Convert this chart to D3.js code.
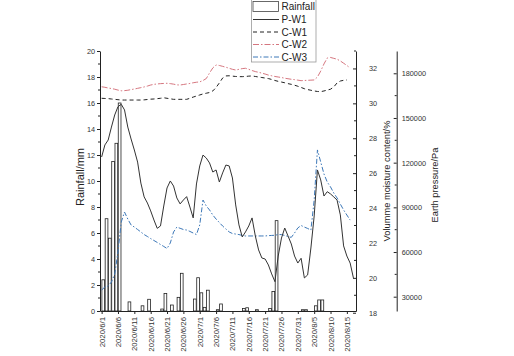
<!DOCTYPE html>
<html><head><meta charset="utf-8">
<script src="https://cdn.jsdelivr.net/npm/d3@7"></script>
<style>
body{margin:0;background:#fff;}
svg{display:block;font-family:"Liberation Sans",Arial,sans-serif;}
</style></head>
<body><svg id="c" width="514" height="356"></svg>
<script>
// ---- data ----
const startDate = "2020/6/1";
const xTickLabels = ["2020/6/1","2020/6/6","2020/6/11","2020/6/16","2020/6/21","2020/6/26","2020/7/1","2020/7/6","2020/7/11","2020/7/16","2020/7/21","2020/7/26","2020/7/31","2020/8/5","2020/8/10","2020/8/15"];
const rainTicks = [0,2,4,6,8,10,12,14,16,18,20];
const moistTicks = [18,20,22,24,26,28,30,32];
const pressTicks = [30000,60000,90000,120000,150000,180000];
// rainfall (mm), by day index from 2020/6/1
const rainDay   = [0,1,2,3,4,5,8,12,14,18,19,21,23,24,28,29,30,31,32,35,36,43,44,47,51,52,53,61,62,65,66,67];
const rainValue = [2.4,7.1,5.6,11.5,12.9,16.0,0.7,0.4,0.9,0.15,1.35,0.46,1.05,2.9,0.92,2.56,1.4,0.28,1.6,0.1,0.54,0.2,0.25,0.1,0.2,1.5,6.95,0.1,0.1,0.4,0.85,0.85];
// earth pressure P-W1 (Pa), daily from 2020/6/1
const pW1 = [123800,131900,135200,143900,152000,157600,159200,155400,143900,135900,128500,120400,106300,97000,92900,87600,81500,75900,77500,90900,103000,107700,104300,96300,92300,94900,97200,90200,82900,105700,117800,125100,123100,119800,113700,115100,107000,113100,118400,117800,109700,91600,78200,70100,73500,77500,82900,70800,61400,56000,55300,51300,45300,40100,57300,69400,76100,70800,65400,57300,52600,55800,42600,44600,62700,84200,115100,108400,97600,100500,99000,97000,94900,84900,64100,57300,52600,42600];
// volume moisture content (%), daily from 2020/6/1
const cW1 = [30.29,30.28,30.27,30.25,30.23,30.21,30.19,30.19,30.19,30.19,30.19,30.19,30.19,30.20,30.22,30.24,30.25,30.27,30.29,30.32,30.29,30.26,30.23,30.23,30.23,30.23,30.23,30.29,30.36,30.42,30.48,30.54,30.58,30.62,30.71,30.91,31.17,31.45,31.57,31.58,31.56,31.54,31.53,31.53,31.54,31.56,31.57,31.54,31.51,31.48,31.45,31.42,31.37,31.31,31.26,31.22,31.18,31.13,31.09,31.04,30.98,30.91,30.84,30.79,30.75,30.71,30.68,30.67,30.71,30.76,30.81,30.94,31.17,31.28,31.32,31.34];
const cW2 = [30.95,30.92,30.88,30.85,30.81,30.76,30.72,30.73,30.75,30.79,30.82,30.86,30.90,30.94,30.99,31.05,31.09,31.11,31.13,31.14,31.15,31.13,31.10,31.06,31.05,31.08,31.11,31.14,31.18,31.21,31.23,31.31,31.42,31.74,32.03,32.20,32.17,32.12,32.07,32.01,31.95,31.91,31.95,31.99,32.01,31.95,31.88,31.82,31.78,31.73,31.68,31.62,31.58,31.54,31.51,31.48,31.44,31.41,31.38,31.36,31.33,31.30,31.31,31.32,31.33,31.34,31.51,31.85,32.26,32.60,32.63,32.58,32.53,32.43,32.30,32.17,32.03];
const cW3 = [19.30,19.48,19.53,19.76,20.22,21.48,23.20,23.77,23.37,23.03,22.91,22.77,22.63,22.48,22.37,22.25,22.14,22.03,21.91,21.80,21.68,22.00,22.63,22.91,22.84,22.77,22.74,22.66,22.57,22.48,23.03,24.46,24.12,23.89,23.60,23.37,23.17,22.97,22.80,22.63,22.54,22.51,22.48,22.43,22.40,22.40,22.40,22.40,22.40,22.40,22.40,22.42,22.43,22.44,22.48,22.48,22.43,22.37,22.32,22.57,22.86,23.00,22.91,22.83,22.74,24.46,27.33,26.64,25.95,25.49,25.21,24.86,24.58,24.23,23.89,23.60,23.31];
const legendNames = ["Rainfall","P-W1","C-W1","C-W2","C-W3"];

// ---- chart ----
const parse = d3.timeParse("%Y/%m/%d");
const t0 = parse(startDate);
const dayOf = i => d3.timeHour.offset(t0, Math.round(i*24));
const svg = d3.select("#c");
svg.append("rect").attr("width",514).attr("height",356).attr("fill","#fff");

const L=100, R=356, T=51, B=311;
const x = d3.scaleTime().domain([dayOf(-0.5), dayOf(77.8)]).range([L,R]);
const yRain = d3.scaleLinear().domain([0,20]).range([B,T]);
const yMoist = d3.scaleLinear().domain([18.1,33]).range([B,T]);
const yPress = d3.scaleLinear().domain([20400,194970]).range([B,T]);

// bars
svg.append("g").selectAll("rect").data(rainDay).join("rect")
  .attr("x",(d)=>x(dayOf(d+0.1)))
  .attr("width",(d)=>x(dayOf(d+0.9))-x(dayOf(d+0.1)))
  .attr("y",(d,i)=>yRain(rainValue[i]))
  .attr("height",(d,i)=>B-yRain(rainValue[i]))
  .attr("fill","#fff").attr("stroke","#222").attr("stroke-width",0.8);

const styles = {
  pW1:{stroke:"#333",dash:null,w:1},
  cW1:{stroke:"#222",dash:"4,3",w:1},
  cW2:{stroke:"#d06670",dash:"6,2,1.5,2",w:0.9},
  cW3:{stroke:"#3d78b8",dash:"5,2,1.5,2",w:1}
};
function drawLine(arr, yS, st){
  svg.append("path").datum(arr)
    .attr("d", d3.line().x((d,i)=>x(dayOf(i))).y(d=>yS(d)))
    .attr("fill","none").attr("stroke",st.stroke).attr("stroke-width",st.w)
    .attr("stroke-dasharray",st.dash);
}
drawLine(cW1,yMoist,styles.cW1);
drawLine(cW2,yMoist,styles.cW2);
drawLine(cW3,yMoist,styles.cW3);
drawLine(pW1,yPress,styles.pW1);

// axes
const fs = 7.3;
function styleAxis(g){
  g.selectAll("path.domain").attr("stroke","#222");
  g.selectAll("line").attr("stroke","#222");
  g.selectAll("text").attr("fill","#333").attr("font-size",fs).attr("font-family","Liberation Sans, Arial, sans-serif");
}
// left
const gl = svg.append("g").attr("transform",`translate(${L},0)`)
  .call(d3.axisLeft(yRain).tickValues(rainTicks).tickSize(3).tickPadding(2).tickSizeOuter(0));
styleAxis(gl);
gl.selectAll(".minor").data(d3.range(1,20,2)).join("line").attr("class","minor")
  .attr("x1",-2).attr("x2",0).attr("y1",d=>yRain(d)).attr("y2",d=>yRain(d)).attr("stroke","#222");
// bottom
const tickDates = xTickLabels.map(parse);
const gb = svg.append("g").attr("transform",`translate(0,${B})`)
  .call(d3.axisBottom(x).tickValues(tickDates).tickFormat((d,i)=>xTickLabels[i]).tickSize(3).tickSizeOuter(0));
styleAxis(gb);
gb.selectAll(".tick text").attr("font-size",7.8).attr("transform","rotate(-90)").attr("text-anchor","end")
  .attr("x",-6).attr("y",0).attr("dy","0.32em");
// moisture
const gm = svg.append("g").attr("transform",`translate(${R},0)`)
  .call(d3.axisRight(yMoist).tickValues(moistTicks).tickSizeInner(-3).tickSizeOuter(0).tickPadding(13));
styleAxis(gm);
gm.selectAll(".minor").data(d3.range(19,34,2)).join("line").attr("class","minor")
  .attr("x1",-2).attr("x2",0).attr("y1",d=>yMoist(d)).attr("y2",d=>yMoist(d)).attr("stroke","#222");
// pressure
const PX = 396.7;
const gp = svg.append("g").attr("transform",`translate(${PX},0)`)
  .call(d3.axisRight(yPress).tickValues(pressTicks).tickSizeInner(-3).tickSizeOuter(0).tickPadding(5).tickFormat(d3.format("d")));
styleAxis(gp);
gp.selectAll(".minor").data(d3.range(45000,195000,30000)).join("line").attr("class","minor")
  .attr("x1",-2).attr("x2",0).attr("y1",d=>yPress(d)).attr("y2",d=>yPress(d)).attr("stroke","#222");

// axis titles
function vtitle(txt,cx,cy,size){
  svg.append("text").attr("transform",`translate(${cx},${cy}) rotate(-90)`)
    .attr("text-anchor","middle").attr("dy","0.35em").attr("font-size",size).attr("fill","#222").text(txt);
}
vtitle("Rainfall/mm",80,177,11);
vtitle("Volumme moisture content/%",387,181,9.3);
vtitle("Earth pressure/Pa",435,185,9.3);

// legend
const lg = svg.append("g");
lg.append("rect").attr("x",251.5).attr("y",-1).attr("width",64.5).attr("height",63)
  .attr("fill","#fff").attr("stroke","#999").attr("stroke-width",0.8);
const ly = [6,19.5,32,44.5,57];
lg.append("rect").attr("x",253).attr("y",1.5).attr("width",25.5).attr("height",10)
  .attr("fill","#fff").attr("stroke","#444").attr("stroke-width",0.8);
const lst = [null,styles.pW1,styles.cW1,styles.cW2,styles.cW3];
lst.forEach((st,i)=>{
  if(st) lg.append("line").attr("x1",253).attr("x2",279).attr("y1",ly[i]).attr("y2",ly[i])
    .attr("stroke",st.stroke).attr("stroke-width",st.w).attr("stroke-dasharray",st.dash);
  lg.append("text").attr("x",281.5).attr("y",ly[i]).attr("dy","0.35em").attr("font-size",10)
    .attr("fill","#222").text(legendNames[i]);
});
</script></body></html>
